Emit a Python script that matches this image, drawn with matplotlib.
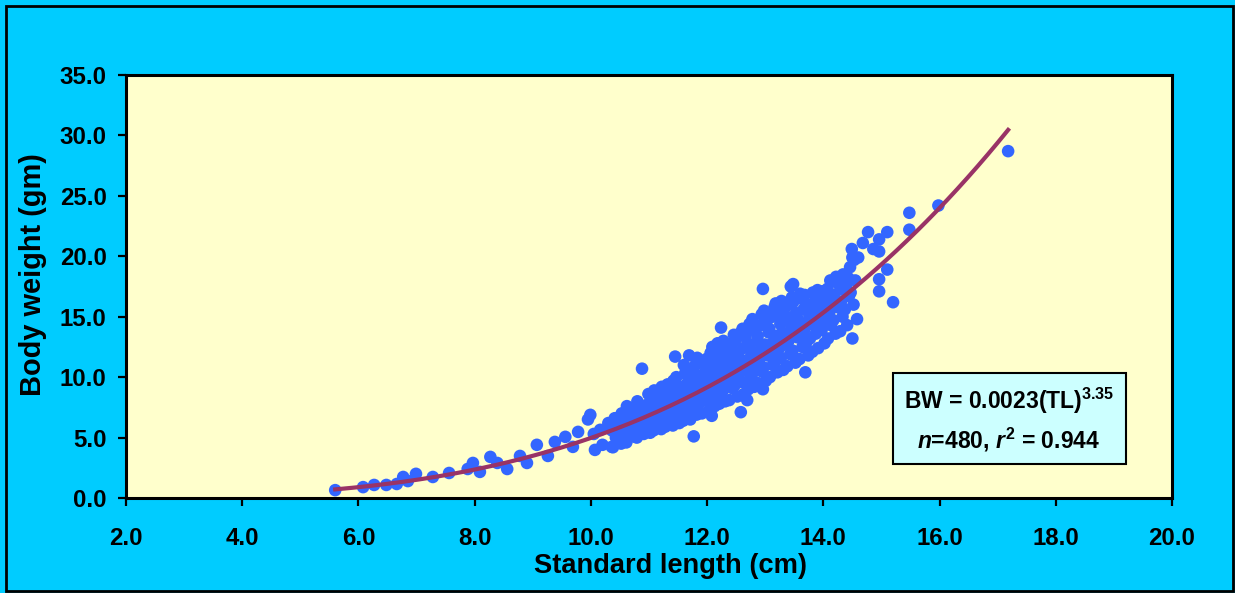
import matplotlib
matplotlib.use("Agg")
import matplotlib.pyplot as plt
from matplotlib.patches import Rectangle
import numpy as np

# ---------------- data ----------------
low_x = [5.60, 6.08, 6.27, 6.48, 6.66, 6.77, 6.85, 6.99, 7.28, 7.56, 7.88, 7.97, 8.09,
         8.27, 8.39, 8.56, 8.78, 8.90, 9.07, 9.26, 9.38, 9.56, 9.69, 9.78, 9.95, 9.99,
         10.07, 10.16, 10.20, 10.36, 10.45, 10.05, 10.30]
low_y = [0.65, 0.90, 1.08, 1.08, 1.16, 1.74, 1.40, 2.00, 1.74, 2.07, 2.40, 2.90, 2.16,
         3.40, 2.90, 2.40, 3.48, 2.90, 4.40, 3.48, 4.64, 5.06, 4.23, 5.47, 6.50, 6.88,
         3.98, 5.64, 4.40, 4.23, 5.80, 5.30, 6.20]

band_a = [
    (10.38, 4.2), (10.43, 5.0), (10.36, 5.6), (10.45, 6.1), (10.41, 6.6),
    (10.52, 4.5), (10.47, 5.3), (10.55, 5.9), (10.49, 6.4), (10.53, 7.0),
    (10.61, 4.6), (10.57, 5.5), (10.64, 6.0), (10.59, 6.5), (10.66, 7.2), (10.62, 7.6),
    (10.72, 5.1), (10.68, 5.8), (10.75, 6.3), (10.70, 6.9), (10.73, 7.4),
    (10.79, 5.0), (10.84, 5.7), (10.77, 6.2), (10.82, 6.8), (10.86, 7.5), (10.80, 8.0),
    (10.91, 5.3), (10.87, 6.0), (10.94, 6.6), (10.89, 7.1), (10.96, 7.7), (10.88, 10.7),
    (11.02, 5.4), (10.97, 6.1), (11.05, 6.7), (11.00, 7.3), (11.03, 8.0), (10.99, 8.6),
    (11.08, 5.6), (11.13, 6.3), (11.06, 7.0), (11.11, 7.6), (11.15, 8.2), (11.09, 8.9),
    (11.21, 5.7), (11.17, 6.5), (11.24, 7.2), (11.19, 7.8), (11.26, 8.5), (11.22, 9.2),
    (11.28, 5.9), (11.33, 6.6), (11.30, 7.4), (11.35, 8.0), (11.27, 8.8), (11.32, 9.4), (11.36, 6.2),
    (11.41, 6.0), (11.37, 6.9), (11.44, 7.6), (11.39, 8.3), (11.46, 9.0), (11.42, 9.7), (11.45, 11.7),
    (11.52, 6.2), (11.48, 7.0), (11.55, 7.8), (11.50, 8.5), (11.53, 9.2), (11.47, 10.0), (11.56, 7.4),
    (11.59, 6.4), (11.64, 7.3), (11.61, 8.1), (11.57, 8.8), (11.66, 9.5), (11.62, 10.3), (11.60, 11.0),
    (11.71, 6.5), (11.67, 7.4), (11.74, 8.3), (11.69, 9.0), (11.76, 9.8), (11.72, 10.6), (11.69, 11.8), (11.75, 7.9),
    (11.77, 5.1), (11.82, 6.9), (11.79, 7.7), (11.85, 8.5), (11.80, 9.3), (11.84, 10.1), (11.78, 10.9), (11.83, 11.6),
    (11.91, 7.0), (11.87, 7.9), (11.94, 8.8), (11.89, 9.6), (11.96, 10.4), (11.92, 11.2), (11.88, 9.1),
]

band_b = [
    (12.02, 7.2), (11.97, 8.1), (12.05, 9.0), (12.00, 9.8), (12.03, 10.7), (11.99, 11.5), (12.06, 12.0), (12.04, 8.6),
    (12.08, 6.8), (12.13, 7.6), (12.10, 8.5), (12.15, 9.3), (12.07, 10.1), (12.12, 11.0), (12.16, 11.8), (12.09, 12.5),
    (12.21, 7.8), (12.17, 8.7), (12.24, 9.5), (12.19, 10.4), (12.26, 11.2), (12.22, 12.0), (12.18, 12.8), (12.24, 14.1), (12.25, 10.0),
    (12.31, 8.0), (12.27, 8.9), (12.34, 9.8), (12.29, 10.6), (12.36, 11.5), (12.32, 12.3), (12.28, 13.0), (12.35, 9.3),
    (12.38, 8.1), (12.43, 9.1), (12.40, 10.0), (12.45, 10.9), (12.37, 11.8), (12.42, 12.6), (12.46, 13.5), (12.41, 10.5),
    (12.52, 8.4), (12.47, 9.3), (12.55, 10.3), (12.50, 11.2), (12.53, 12.0), (12.48, 13.0), (12.56, 13.6), (12.51, 9.8),
    (12.58, 7.1), (12.63, 8.6), (12.60, 9.6), (12.65, 10.6), (12.57, 11.5), (12.62, 12.4), (12.66, 13.3), (12.61, 14.0), (12.64, 11.0),
    (12.69, 8.1), (12.71, 9.0), (12.74, 9.9), (12.68, 10.9), (12.76, 11.8), (12.72, 12.7), (12.67, 13.6), (12.73, 14.4), (12.75, 11.3),
    (12.81, 9.2), (12.77, 10.2), (12.84, 11.2), (12.79, 12.1), (12.86, 13.0), (12.82, 14.0), (12.78, 14.8), (12.85, 10.7),
    (12.96, 9.0), (12.88, 9.5), (12.93, 10.5), (12.90, 11.5), (12.95, 12.4), (12.87, 13.4), (12.92, 14.3), (12.94, 15.2), (12.89, 12.0),
    (13.01, 9.7), (12.97, 10.8), (13.04, 11.8), (12.99, 12.7), (13.06, 13.7), (13.02, 14.6), (12.98, 15.5), (12.96, 17.3), (13.05, 12.3),
    (13.08, 10.0), (13.13, 11.0), (13.10, 12.1), (13.15, 13.0), (13.07, 14.0), (13.12, 15.0), (13.16, 15.8), (13.11, 12.6),
    (13.21, 10.4), (13.17, 11.3), (13.24, 12.4), (13.19, 13.4), (13.26, 14.4), (13.22, 15.3), (13.18, 16.1), (13.25, 12.9),
]

band_c = [
    (13.31, 10.6), (13.27, 11.6), (13.34, 12.7), (13.29, 13.7), (13.36, 14.7), (13.32, 15.6), (13.28, 16.3), (13.35, 13.2),
    (13.38, 10.9), (13.43, 11.9), (13.40, 13.0), (13.45, 14.0), (13.37, 15.0), (13.42, 16.0), (13.46, 16.6), (13.44, 17.5), (13.41, 13.6),
    (13.52, 11.2), (13.47, 12.2), (13.55, 13.3), (13.50, 14.3), (13.53, 15.3), (13.48, 16.2), (13.48, 17.7), (13.56, 14.8),
    (13.59, 11.5), (13.64, 12.5), (13.61, 13.6), (13.57, 14.6), (13.66, 15.6), (13.62, 16.5), (13.60, 16.9), (13.65, 14.0),
    (13.69, 10.4), (13.74, 11.8), (13.71, 12.9), (13.67, 13.9), (13.76, 15.0), (13.72, 16.0), (13.68, 16.8), (13.75, 14.5),
    (13.81, 12.1), (13.77, 13.2), (13.84, 14.3), (13.79, 15.3), (13.86, 16.3), (13.82, 17.0), (13.78, 14.8),
    (13.91, 12.4), (13.87, 13.6), (13.94, 14.6), (13.89, 15.6), (13.96, 16.6), (13.90, 17.2), (13.93, 15.2),
    (14.02, 12.8), (13.97, 13.9), (14.05, 15.0), (14.00, 16.0), (14.03, 17.0), (13.99, 17.1), (14.06, 15.5),
    (14.08, 13.2), (14.13, 14.3), (14.10, 15.3), (14.15, 16.4), (14.07, 17.3), (14.12, 18.0),
    (14.21, 13.6), (14.17, 14.7), (14.24, 15.8), (14.19, 16.8), (14.26, 17.7), (14.22, 18.3),
    (14.29, 13.8), (14.33, 15.0), (14.30, 16.2), (14.35, 17.2), (14.27, 18.1), (14.34, 18.5),
    (14.41, 14.3), (14.37, 15.6), (14.44, 16.7), (14.39, 17.6), (14.43, 18.2), (14.46, 19.1),
    (14.50, 13.2), (14.52, 16.0), (14.47, 17.0), (14.55, 18.0), (14.50, 19.9), (14.49, 20.6), (14.53, 19.7),
]

high_x = [14.58, 14.60, 14.68, 14.77, 14.86, 14.96, 14.96, 14.96, 14.96, 15.10, 15.10,
          15.20, 15.48, 15.48, 15.98, 17.18]
high_y = [14.8, 19.9, 21.1, 22.0, 20.6, 21.4, 20.4, 18.1, 17.1, 22.0, 18.9,
          16.2, 23.6, 22.2, 24.2, 28.7]

# power trendline as drawn in the chart (BW = a * SL^b)
trend_a = 0.00222
trend_b = 3.35

x_ticks = [2.0, 4.0, 6.0, 8.0, 10.0, 12.0, 14.0, 16.0, 18.0, 20.0]
y_ticks = [0.0, 5.0, 10.0, 15.0, 20.0, 25.0, 30.0, 35.0]

x_label = "Standard length (cm)"
y_label = "Body weight (gm)"
eq_line1 = r"BW = 0.0023(TL)$^{\mathrm{3.35}}$"
eq_line2 = r"$n$=480, $r^{\mathrm{2}}$ = 0.944"

# ---------------- styling ----------------
plt.rcParams['font.family'] = ['Liberation Sans', 'DejaVu Sans']
plt.rcParams['font.weight'] = 'bold'
plt.rcParams['mathtext.fontset'] = 'custom'
plt.rcParams['mathtext.rm'] = 'Liberation Sans:bold'
plt.rcParams['mathtext.it'] = 'Liberation Sans:bold:italic'
plt.rcParams['mathtext.bf'] = 'Liberation Sans:bold'

W, H = 1235, 593
fig = plt.figure(figsize=(W / 100, H / 100), dpi=100)
fig.patch.set_facecolor('#00CCFF')

# outer frame
fig.patches.append(Rectangle((6 / W, 1 - 591 / H), (1233 - 6) / W, (591 - 6) / H,
                             transform=fig.transFigure, fill=False,
                             edgecolor='black', linewidth=2.0))

ax = fig.add_axes([126 / W, 1 - 498 / H, (1172 - 126) / W, (498 - 75) / H])
ax.set_facecolor('#FFFFCC')

band_pts = band_a + band_b + band_c
bx = [p[0] for p in band_pts]
by = [p[1] for p in band_pts]
all_x = np.array(low_x + bx + high_x)
all_y = np.array(low_y + by + high_y)

ax.scatter(all_x, all_y, s=82, color='#3366FF', edgecolors='none', zorder=2)

cx = np.linspace(all_x.min(), all_x.max(), 200)
ax.plot(cx, trend_a * cx ** trend_b, color='#993366', linewidth=3.0, zorder=3)

ax.set_xlim(2, 20)
ax.set_ylim(0, 35)
ax.set_xticks(x_ticks)
ax.set_yticks(y_ticks)
ax.set_xticklabels([f"{v:.1f}" for v in x_ticks])
ax.set_yticklabels([f"{v:.1f}" for v in y_ticks])
for sp in ax.spines.values():
    sp.set_linewidth(2.2)
    sp.set_color('black')
ax.tick_params(axis='both', direction='out', length=6, width=1.6, labelsize=17.3)
ax.tick_params(axis='x', pad=15)
ax.tick_params(axis='y', pad=8)
for lab in ax.get_xticklabels() + ax.get_yticklabels():
    lab.set_fontweight('bold')

fig.text(671 / W, 1 - 566 / H, x_label, ha='center', va='center',
         fontsize=19.6, fontweight='bold')
fig.text(33 / W, 1 - 275 / H, y_label, ha='center', va='center', rotation=90,
         fontsize=20.9, fontweight='bold')

# equation box
fig.patches.append(Rectangle((893 / W, 1 - 464 / H), (1126 - 893) / W, (464 - 373) / H,
                             transform=fig.transFigure, facecolor='#CCFFFF',
                             edgecolor='black', linewidth=1.5, zorder=5))
fig.text(1009 / W, 1 - 401 / H, eq_line1, ha='center', va='center',
         fontsize=16.5, fontweight='bold', zorder=6)
fig.text(1009 / W, 1 - 440 / H, eq_line2, ha='center', va='center',
         fontsize=16.5, fontweight='bold', zorder=6)

fig.savefig('out.png', dpi=100, facecolor=fig.get_facecolor())
